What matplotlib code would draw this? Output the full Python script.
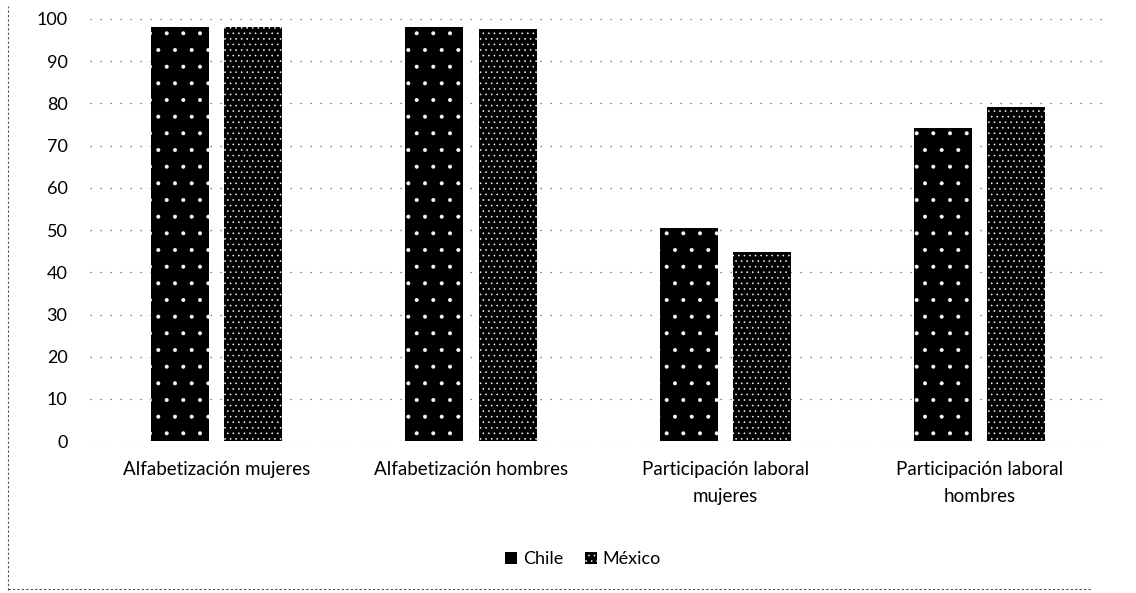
import matplotlib
matplotlib.use("Agg")
from matplotlib import pyplot as plt
from matplotlib.lines import Line2D
import numpy as np

# data
categories = ["Alfabetización mujeres", "Alfabetización hombres",
              "Participación laboral\nmujeres", "Participación laboral\nhombres"]
chile = [98.2, 98.2, 50.5, 74.2]
mexico = [98.0, 97.7, 44.8, 79.1]
yticks = [0, 10, 20, 30, 40, 50, 60, 70, 80, 90, 100]

plt.rcParams['font.family'] = ['Lato', 'DejaVu Sans']
plt.rcParams['hatch.linewidth'] = 0.4

fig = plt.figure(figsize=(11.36, 5.93), dpi=100)
ax = fig.add_axes([0.079, 0.256, 0.895, 0.712])

x = np.arange(len(categories))
width = 0.228
offset = 0.144

# bars: black with white speckle (hatch colour follows edgecolor)
ax.bar(x - offset, chile, width, color="black", edgecolor="white",
       hatch=".", linewidth=0, label="Chile", zorder=3)
ax.bar(x + offset, mexico, width, color="black", edgecolor="white",
       hatch="...", linewidth=0, label="México", zorder=3)

ax.set_ylim(0, 100)
ax.set_xlim(-0.5, len(categories) - 0.5)
ax.set_yticks(yticks)
ax.set_xticks(x)
ax.set_xticklabels(categories, fontsize=13.5, linespacing=1.75)
ax.tick_params(axis="y", length=0, pad=16, labelsize=13)
ax.tick_params(axis="x", length=0, pad=14)

# sparse dotted gridlines like the scan
ax.yaxis.grid(True, color="0.35", linestyle=(0, (1, 7)), linewidth=0.9, zorder=0)
for s in ax.spines.values():
  s.set_visible(False)

ax.legend(loc="upper center", bbox_to_anchor=(0.485, -0.222), ncol=2,
          frameon=False, fontsize=13, handlelength=0.7, handleheight=0.7,
          handletextpad=0.3, columnspacing=1.2)

# dashed outer frame on left and bottom
fig.add_artist(Line2D([0.007, 0.007], [0.005, 0.99], color="0.3",
                      linestyle=(0, (2, 2)), linewidth=0.8))
fig.add_artist(Line2D([0.007, 0.96], [0.006, 0.006], color="0.3",
                      linestyle=(0, (2, 2)), linewidth=0.8))

fig.savefig("out.png", dpi=100)
